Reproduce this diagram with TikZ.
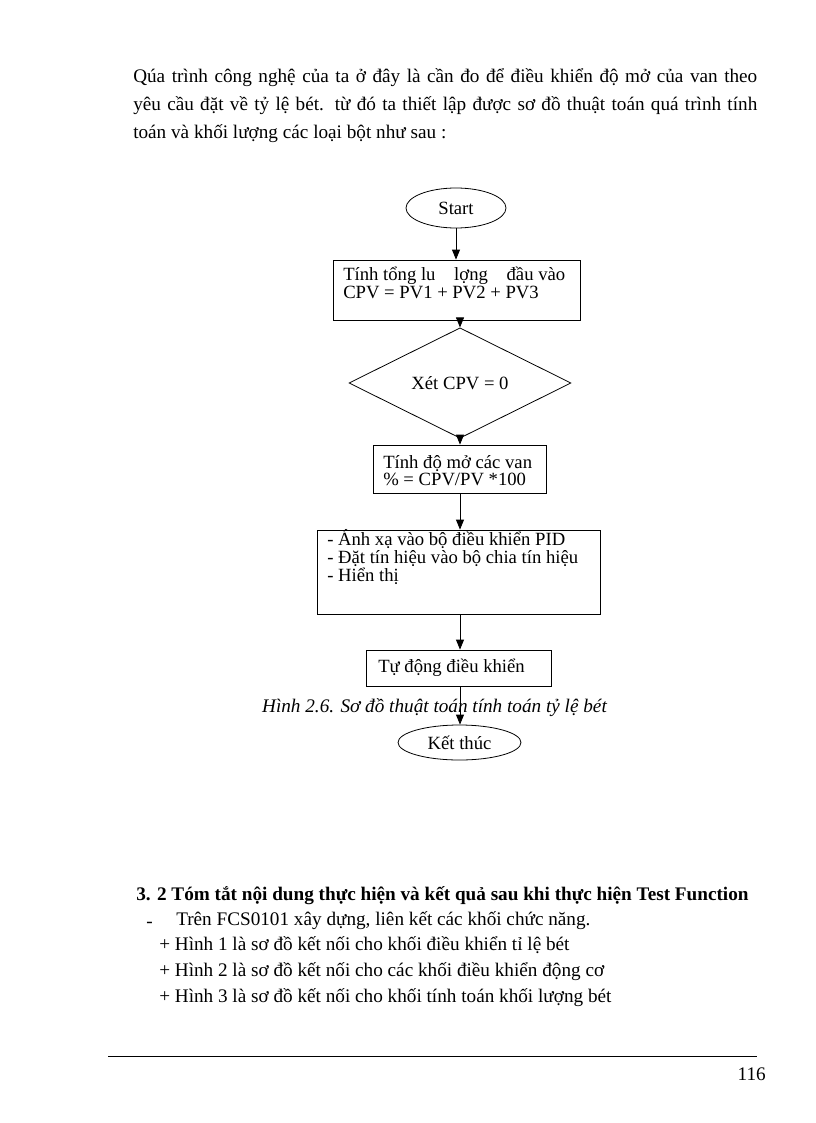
\documentclass[tikz,border=0pt]{standalone}
\usepackage{fontspec}
\setmainfont{Liberation Serif}
\usetikzlibrary{shapes.geometric,arrows.meta}
\begin{document}
\begin{tikzpicture}[x=0.75pt,y=-0.75pt,
  flow/.style={draw, line width=0.6pt, inner sep=0pt},
  arr/.style={line width=0.6pt, -{Triangle[length=7.5pt,width=6pt]}},
  body/.style={anchor=base west, inner sep=0pt, font=\fontsize{14.4}{16}\selectfont},
  ftext/.style={anchor=base west, inner sep=0pt, align=left, font=\fontsize{14}{12}\selectfont},
  fcenter/.style={font=\fontsize{14}{12}\selectfont},
]
\useasboundingbox (0,0) rectangle (816,1123);

% top paragraph
\node[body] (p1) at (133,83) {\hbox to 468pt{Qúa trình công nghệ của ta ở đây là cần đo để điều khiển độ mở của van theo}};
\node[body] (p2) at (133,111) {\hbox to 468pt{yêu cầu đặt về tỷ lệ bét. từ đó ta thiết lập được sơ đồ thuật toán quá trình tính}};
\node[body] (p3) at (133,139) {toán và khối lượng các loại bột như sau :};

% flowchart shapes
\node[flow, ellipse, minimum width=75pt, minimum height=30pt, fcenter] (start) at (456,208) {Start};
\node[flow, rectangle, minimum width={247*0.75pt}, minimum height=45pt] (b1) at (456.5,290) {};
\node[flow, diamond, minimum width={222*0.75pt}, minimum height={70*0.75pt}, fcenter] (dia) at (460,383) {Xét CPV = 0};
\node[flow, rectangle, minimum width={173*0.75pt}, minimum height=36pt] (b2) at (459.5,469) {};
\node[flow, rectangle, minimum width={283*0.75pt}, minimum height=63pt] (b3) at (458.5,572) {};
\node[flow, rectangle, minimum width={185*0.75pt}, minimum height=27pt] (b4) at (458.5,668) {};
\node[flow, ellipse, minimum width={123*0.75pt}, minimum height={35*0.75pt}, fcenter] (end) at (459.5,742.5) {Kết thúc};

% box texts (anchor = baseline of the last line)
\node[ftext] (t1) at (343,298) {Tính tổng lu\hspace{1em}lợng\hspace{1em}đầu vào\\CPV = PV1 + PV2 + PV3};
\node[ftext, font=\fontsize{14}{12.6}\selectfont] (t2) at (383,485) {Tính độ mở các van\\\% = CPV/PV *100};
\node[ftext] (t3) at (327,581) {- Ánh xạ vào bộ điều khiển PID\\- Đặt tín hiệu vào bộ chia tín hiệu\\- Hiển thị};
\node[ftext] (t4) at (378,672) {Tự động điều khiển};

% caption
\node[anchor=base, inner sep=0pt, font=\fontsize{14.4}{16}\selectfont\itshape] (cap) at (434.5,712) {Hình 2.6. Sơ đồ thuật toán tính toán tỷ lệ bét};

% connectors
\draw[arr] (start.south) -- (start.south |- b1.north);
\draw[arr] (b1.south -| dia.north) -- (dia.north);
\draw[arr] (dia.south) -- (dia.south |- b2.north);
\draw[arr] (b2.south -| dia.south) -- (dia.south |- b3.north);
\draw[arr] (b3.south -| dia.south) -- (dia.south |- b4.north);
\draw[arr] (b4.south -| dia.south) -- (dia.south |- end.north);

% section
\node[anchor=base west, inner sep=0pt, font=\fontsize{14.4}{16}\selectfont\bfseries] (h) at (136,900) {3. 2 Tóm tắt nội dung thực hiện và kết quả sau khi thực hiện Test Function};
\node[body] (l0d) at (146,925) {\raisebox{-2pt}{-}};
\node[body] (l0) at (176,925) {Trên FCS0101 xây dựng, liên kết các khối chức năng.};
\node[body] (l1) at (159,950) {+ Hình 1 là sơ đồ kết nối cho khối điều khiển tỉ lệ bét};
\node[body] (l2) at (159,976) {+ Hình 2 là sơ đồ kết nối cho các khối điều khiển động cơ};
\node[body] (l3) at (159,1002) {+ Hình 3 là sơ đồ kết nối cho khối tính toán khối lượng bét};

% footer
\draw[line width=0.6pt] (108,1056) -- (757,1056);
\node[anchor=base east, inner sep=0pt, font=\fontsize{14.4}{16}\selectfont] (pg) at (766,1080) {116};
\end{tikzpicture}
\end{document}
